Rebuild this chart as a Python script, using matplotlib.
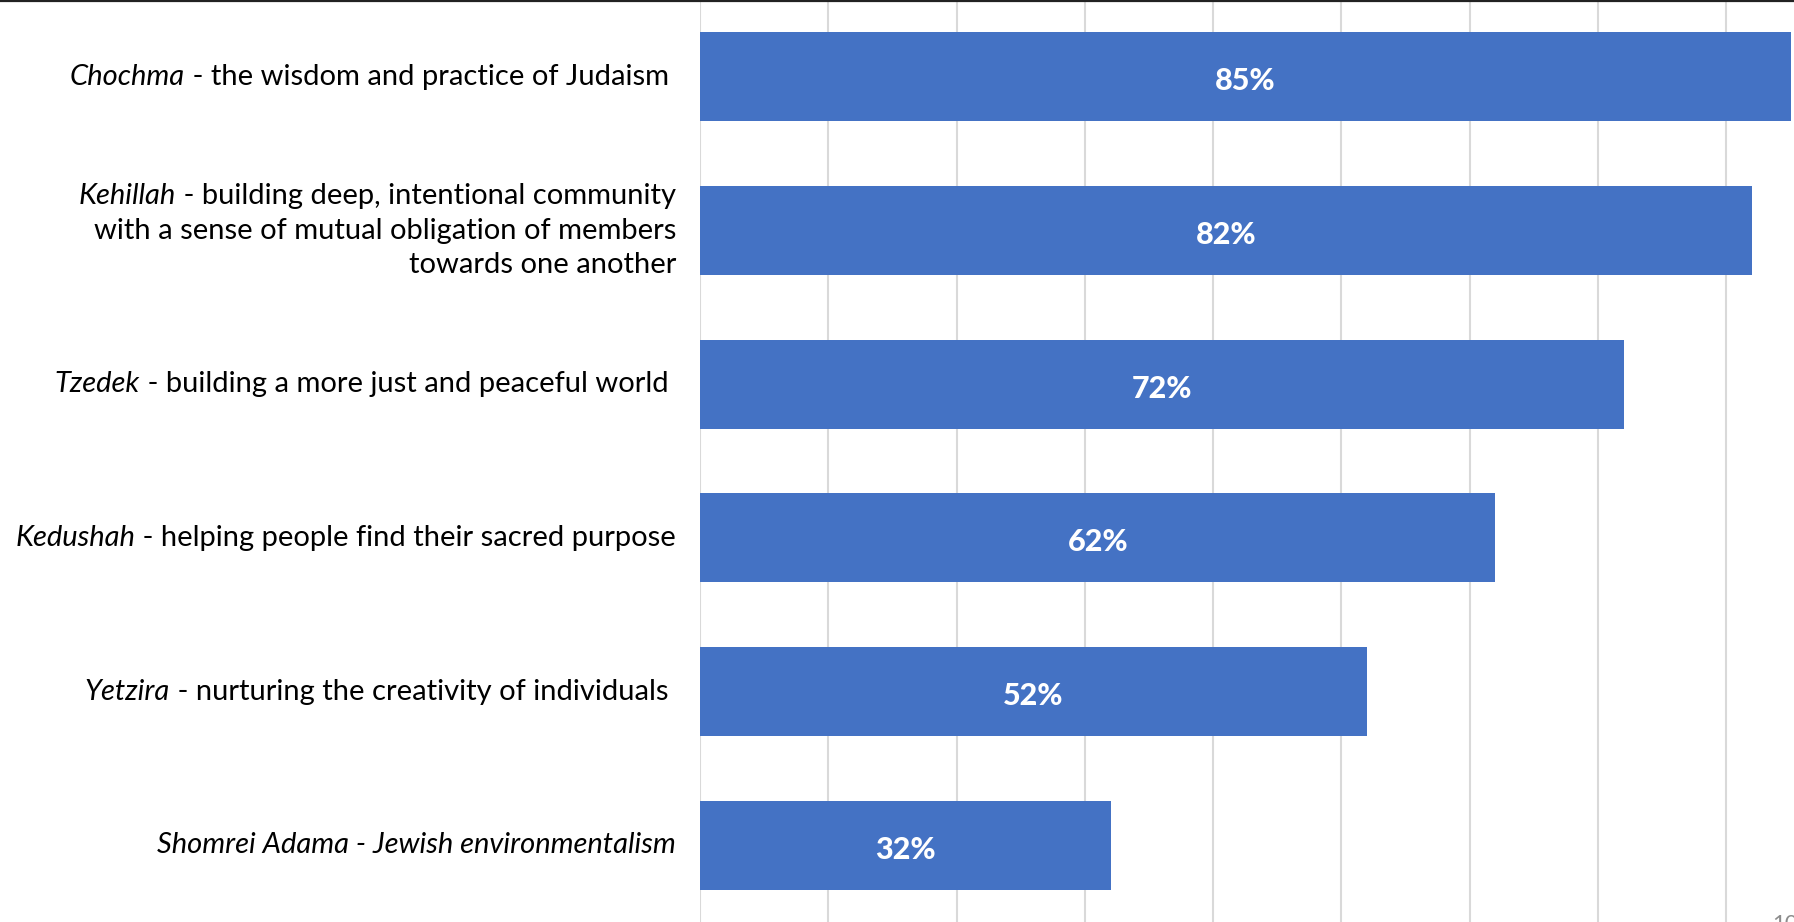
import matplotlib.pyplot as plt
from matplotlib.lines import Line2D
from matplotlib.transforms import blended_transform_factory

# data
values = [85, 82, 72, 62, 52, 32]
italic_parts = ["Chochma", "Kehillah", "Tzedek", "Kedushah", "Yetzira",
                "Shomrei Adama - Jewish environmentalism"]
plain_parts = [" - the wisdom and practice of Judaism ",
               " - building deep, intentional community\nwith a sense of mutual obligation of members\ntowards one another",
               " - building a more just and peaceful world ",
               " - helping people find their sacred purpose",
               " - nurturing the creativity of individuals ",
               ""]
value_labels = ["85%", "82%", "72%", "62%", "52%", "32%"]

W, H = 1794, 922
bar_color = "#4472C4"
font = "Lato"
fsize = 21

fig = plt.figure(figsize=(W / 100, H / 100), dpi=100)
ax = fig.add_axes([700 / W, 0, 1 - 700 / W, 1])

ypos = list(range(len(values)))
ax.barh(ypos, values, height=0.58, color=bar_color, zorder=2)
ax.set_ylim(5.5, -0.5)
ax.set_xlim(0, 85.27)
ax.set_xticks(range(0, 90, 10))
ax.set_yticks([])
ax.set_xticklabels([])
ax.tick_params(length=0)
ax.grid(axis="x", color="#d9d9d9", linewidth=1.5, zorder=0)
ax.set_axisbelow(True)
for s in ax.spines.values():
    s.set_visible(False)

for y, v, lab in zip(ypos, values, value_labels):
    ax.text(v / 2, y + 0.03, lab, ha="center", va="center", color="white",
            fontsize=22, fontweight="black", family=font, zorder=3)

# category labels (italic name + plain description)
trans = blended_transform_factory(fig.transFigure, ax.transData)
renderer = fig.canvas.get_renderer()
xr = 676 / W
line_gap = 0.225
for y, it, pl in zip(ypos, italic_parts, plain_parts):
    lines = pl.split("\n")
    n = len(lines)
    for i, line in enumerate(lines):
        yy = y + (i - (n - 1) / 2) * line_gap
        x_edge = xr
        if line:
            t = fig.text(xr, yy, line, ha="right", va="center", fontsize=fsize,
                         family=font, transform=trans)
            bb = t.get_window_extent(renderer=renderer)
            x_edge = bb.x0 / W
        if i == 0:
            fig.text(x_edge, yy, it, ha="right", va="center", fontsize=fsize,
                     family=font, style="italic", transform=trans)

fig.add_artist(Line2D([0, 1], [1 - 1.5 / H, 1 - 1.5 / H], color="#222222",
                      linewidth=1.6, transform=fig.transFigure))
fig.text(1772 / W, 1 - 914 / H, "10", ha="left", va="top", color="#8c8c8c",
         fontsize=16, family=font)

fig.savefig("out.png", dpi=100)
